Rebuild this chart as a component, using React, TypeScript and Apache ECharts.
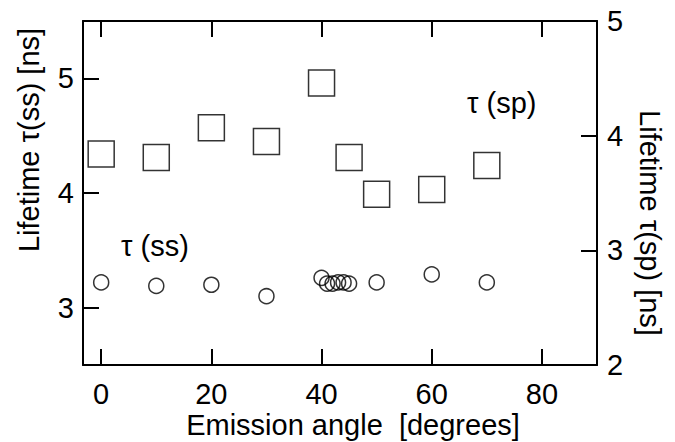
import React, { useEffect, useRef } from "react";
import * as echarts from "echarts";

const FONT = "'Liberation Sans', Arial, Helvetica, sans-serif";

const squareAngles = [0, 10, 20, 30, 40, 45, 50, 60, 70];
const squareLifetimeSp = [3.84, 3.81, 4.07, 3.95, 4.46, 3.81, 3.49, 3.53, 3.74];

const circleAngles = [0, 10, 20, 30, 40, 41, 42, 43, 44, 45, 50, 60, 70];
const circleLifetimeSs = [3.22, 3.19, 3.2, 3.1, 3.26, 3.21, 3.21, 3.22, 3.22, 3.21, 3.22, 3.29, 3.22];

const xTicks = [0, 20, 40, 60, 80];
const leftTicks = [3, 4, 5];
const rightTicks = [2, 3, 4, 5];

export default function App() {
  const ref = useRef<HTMLDivElement>(null);
  useEffect(() => {
    if (!ref.current) return;
    const chart = echarts.init(ref.current, null, { renderer: "svg" });
    const line = { show: true, onZero: false, lineStyle: { color: "#000", width: 2 } };
    const tick = (vals: number[]) => ({
      show: true,
      inside: true,
      length: 16,
      lineStyle: { color: "#000", width: 2 },
      customValues: vals,
    });
    const label = (vals: number[], margin: number) => ({
      show: true,
      customValues: vals,
      color: "#000",
      fontSize: 29,
      fontFamily: FONT,
      margin,
    });
    chart.setOption({
      animation: false,
      backgroundColor: "#fff",
      grid: { left: 83, right: 78, top: 21, bottom: 77, containLabel: false },
      xAxis: [
        {
          type: "value",
          position: "bottom",
          min: -3.3,
          max: 90,
          axisLine: line,
          axisTick: tick(xTicks),
          axisLabel: label(xTicks, 14),
          splitLine: { show: false },
        },
        {
          type: "value",
          position: "top",
          min: -3.3,
          max: 90,
          axisLine: line,
          axisTick: tick(xTicks),
          axisLabel: { show: false },
          splitLine: { show: false },
        },
      ],
      yAxis: [
        {
          type: "value",
          position: "left",
          min: 2.5,
          max: 5.5,
          axisLine: line,
          axisTick: tick(leftTicks),
          axisLabel: label(leftTicks, 9),
          splitLine: { show: false },
        },
        {
          type: "value",
          position: "right",
          min: 2,
          max: 5,
          axisLine: line,
          axisTick: tick(rightTicks),
          axisLabel: label(rightTicks, 10),
          splitLine: { show: false },
        },
      ],
      series: [
        {
          name: "τ(sp)",
          type: "scatter",
          xAxisIndex: 0,
          yAxisIndex: 1,
          symbol: "rect",
          symbolSize: 26,
          itemStyle: { color: "rgba(0,0,0,0)", borderColor: "#000", borderWidth: 1.5 },
          data: squareAngles.map((a, i) => [a, squareLifetimeSp[i]]),
        },
        {
          name: "τ(ss)",
          type: "scatter",
          xAxisIndex: 0,
          yAxisIndex: 0,
          symbol: "circle",
          symbolSize: 15,
          itemStyle: { color: "rgba(0,0,0,0)", borderColor: "#000", borderWidth: 1.5 },
          data: circleAngles.map((a, i) => [a, circleLifetimeSs[i]]),
        },
      ],
      graphic: [
        {
          type: "text",
          x: 29,
          y: 140,
          rotation: Math.PI / 2,
          style: {
            text: "Lifetime τ(ss) [ns]",
            fill: "#000",
            font: `29px ${FONT}`,
            align: "center",
            verticalAlign: "middle",
          },
        },
        {
          type: "text",
          x: 650,
          y: 223,
          rotation: -Math.PI / 2,
          style: {
            text: "Lifetime τ(sp) [ns]",
            fill: "#000",
            font: `29px ${FONT}`,
            align: "center",
            verticalAlign: "middle",
          },
        },
        {
          type: "text",
          x: 353,
          y: 425,
          style: {
            text: "Emission angle  [degrees]",
            fill: "#000",
            font: `29px ${FONT}`,
            align: "center",
            verticalAlign: "middle",
          },
        },
        {
          type: "text",
          x: 121,
          y: 246,
          style: {
            text: "τ (ss)",
            fill: "#000",
            font: `29px ${FONT}`,
            align: "left",
            verticalAlign: "middle",
          },
        },
        {
          type: "text",
          x: 467,
          y: 103,
          style: {
            text: "τ (sp)",
            fill: "#000",
            font: `29px ${FONT}`,
            align: "left",
            verticalAlign: "middle",
          },
        },
      ],
    });
    return () => chart.dispose();
  }, []);
  return <div ref={ref} style={{ width: 675, height: 442, position: "absolute", left: 0, top: 0 }} />;
}
